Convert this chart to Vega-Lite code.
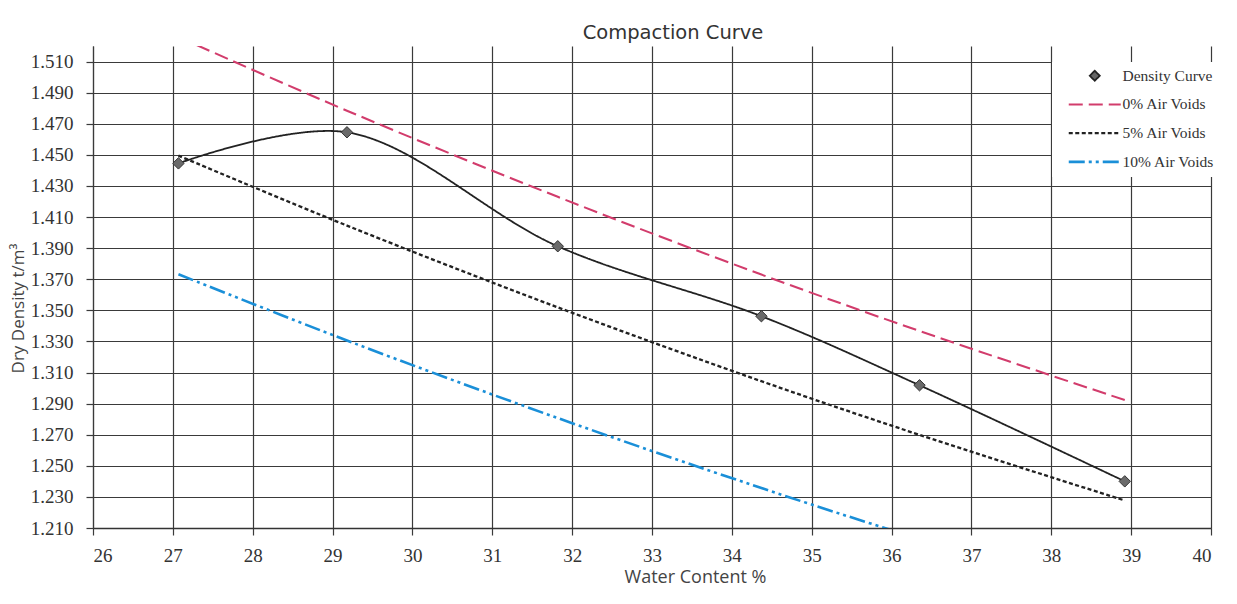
{
  "$schema": "https://vega.github.io/schema/vega-lite/v6.json",
  "width": 1118,
  "height": 482,
  "autosize": {"type": "none"},
  "padding": {"left": 93, "top": 46, "right": 26, "bottom": 76},
  "background": "white",
  "title": {"text": "Compaction Curve", "font": "DejaVu Sans", "fontSize": 19.5, "fontWeight": "normal", "color": "#333333", "anchor": "middle", "frame": "group", "dx": 21, "offset": 3},
  "config": {"view": {"stroke": null}},
  "data": {"values": [
    {"w": 27.07, "density": 1.4445, "series": "Density Curve"},
    {"w": 29.18, "density": 1.4645, "series": "Density Curve"},
    {"w": 31.82, "density": 1.3912, "series": "Density Curve"},
    {"w": 34.37, "density": 1.3462, "series": "Density Curve"},
    {"w": 36.35, "density": 1.3018, "series": "Density Curve"},
    {"w": 38.92, "density": 1.2400, "series": "Density Curve"},
    {"w": 27.07, "density": 1.5258, "series": "0% Air Voids"},
    {"w": 29.18, "density": 1.4784, "series": "0% Air Voids"},
    {"w": 31.82, "density": 1.4230, "series": "0% Air Voids"},
    {"w": 34.37, "density": 1.3730, "series": "0% Air Voids"},
    {"w": 36.35, "density": 1.3367, "series": "0% Air Voids"},
    {"w": 38.92, "density": 1.2923, "series": "0% Air Voids"},
    {"w": 27.07, "density": 1.4495, "series": "5% Air Voids"},
    {"w": 29.18, "density": 1.4045, "series": "5% Air Voids"},
    {"w": 31.82, "density": 1.3519, "series": "5% Air Voids"},
    {"w": 34.37, "density": 1.3044, "series": "5% Air Voids"},
    {"w": 36.35, "density": 1.2699, "series": "5% Air Voids"},
    {"w": 38.92, "density": 1.2277, "series": "5% Air Voids"},
    {"w": 27.07, "density": 1.3732, "series": "10% Air Voids"},
    {"w": 29.18, "density": 1.3306, "series": "10% Air Voids"},
    {"w": 31.82, "density": 1.2807, "series": "10% Air Voids"},
    {"w": 34.37, "density": 1.2357, "series": "10% Air Voids"},
    {"w": 36.35, "density": 1.2030, "series": "10% Air Voids"},
    {"w": 38.92, "density": 1.1631, "series": "10% Air Voids"}
  ]},
  "encoding": {
    "x": {
      "field": "w", "type": "quantitative",
      "scale": {"domain": [26, 40], "nice": false, "zero": false},
      "axis": {
        "values": [26, 27, 28, 29, 30, 31, 32, 33, 34, 35, 36, 37, 38, 39, 40],
        "format": "d",
        "labelFont": "Liberation Serif", "labelFontSize": 19, "labelColor": "#333333", "labelPadding": 11,
        "grid": true, "gridColor": "#3a3a3a", "gridWidth": 1.2, "gridOpacity": 1,
        "tickColor": "#3a3a3a", "tickSize": 7, "tickWidth": 1.2,
        "domainColor": "#333333", "domainWidth": 1.6,
        "title": "Water Content %", "titleFont": "Open Sans", "titleFontSize": 18, "titleFontWeight": "normal", "titleColor": "#444444",
        "titleX": 602, "titlePadding": 3
      }
    },
    "y": {
      "field": "density", "type": "quantitative",
      "scale": {"domain": [1.21, 1.52], "nice": false, "zero": false},
      "axis": {
        "values": [1.21, 1.23, 1.25, 1.27, 1.29, 1.31, 1.33, 1.35, 1.37, 1.39, 1.41, 1.43, 1.45, 1.47, 1.49, 1.51],
        "format": ".3f",
        "labelFont": "Liberation Serif", "labelFontSize": 19, "labelColor": "#333333", "labelPadding": 13,
        "grid": true, "gridColor": "#3a3a3a", "gridWidth": 1.2, "gridOpacity": 1,
        "tickColor": "#3a3a3a", "tickSize": 7, "tickWidth": 1.2,
        "domainColor": "#3a3a3a", "domainWidth": 1.2,
        "title": "Dry Density t/m³", "titleFont": "Open Sans", "titleFontSize": 17, "titleFontWeight": "normal", "titleColor": "#444444",
        "titleY": 262, "titlePadding": 3
      }
    }
  },
  "layer": [
    {
      "mark": {"type": "line", "interpolate": "catmull-rom", "clip": true},
      "encoding": {
        "color": {
          "field": "series", "type": "nominal",
          "scale": {"domain": ["Density Curve", "0% Air Voids", "5% Air Voids", "10% Air Voids"], "range": ["#222222", "#d23c6c", "#222222", "#1a8fd8"]},
          "legend": {
            "title": null, "orient": "none", "legendX": 959, "legendY": 16,
            "fillColor": "white", "padding": 6, "rowPadding": 11.7,
            "labelFont": "Liberation Serif", "labelFontSize": 15.5, "labelColor": "#333333", "labelBaseline": "middle", "labelLimit": 200,
            "symbolSize": 100, "symbolOffset": 29, "labelOffset": 20,
            "encode": {
              "symbols": {"update": {
                "shape": {"signal": "datum.value === 'Density Curve' ? 'diamond' : 'M-5.2,0H5.2'"},
                "size": {"value": 100},
                "fill": {"signal": "datum.value === 'Density Curve' ? '#666666' : 'transparent'"},
                "stroke": {"signal": "datum.value === 'Density Curve' ? '#333333' : datum.value === '0% Air Voids' ? '#d23c6c' : datum.value === '10% Air Voids' ? '#1a8fd8' : '#222222'"},
                "strokeWidth": {"signal": "datum.value === 'Density Curve' ? 1 : 2"},
                "strokeDash": {"signal": "datum.value === '0% Air Voids' ? [9, 4] : datum.value === '5% Air Voids' ? [3, 1.5] : datum.value === '10% Air Voids' ? [12, 3, 2, 3, 2, 3] : [1, 0]"}
              }}
            }
          }
        },
        "strokeDash": {
          "field": "series", "type": "nominal",
          "scale": {"domain": ["Density Curve", "0% Air Voids", "5% Air Voids", "10% Air Voids"], "range": [[1, 0], [14, 6], [4, 2.5], [16, 4, 3, 4, 3, 4]]},
          "legend": null
        },
        "strokeWidth": {
          "field": "series", "type": "nominal",
          "scale": {"domain": ["Density Curve", "0% Air Voids", "5% Air Voids", "10% Air Voids"], "range": [1.8, 2.6, 1.8, 2.6]},
          "legend": null
        }
      }
    },
    {
      "transform": [{"filter": "datum.series === 'Density Curve'"}],
      "mark": {"type": "point", "shape": "diamond", "filled": true, "fill": "#6a6a6a", "stroke": "#333333", "strokeWidth": 1, "size": 130, "opacity": 1}
    }
  ]
}
